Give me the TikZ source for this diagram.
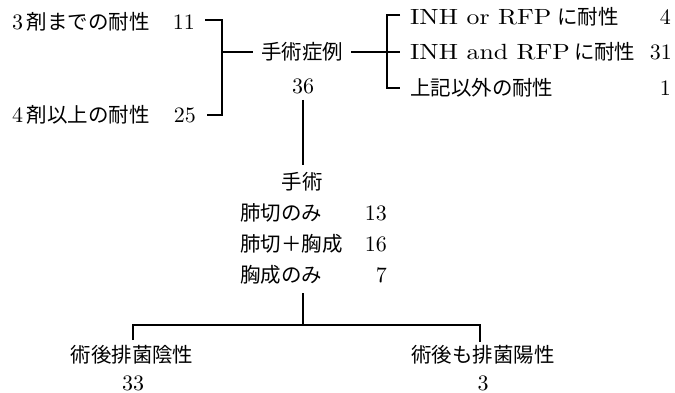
\documentclass[tikz,border=0pt]{standalone}
\usepackage{fontspec}
\usepackage{graphicx}
\setmainfont{lmroman10-regular}[Extension=.otf]
\newfontfamily\cjk[Scale=0.93]{Noto Sans CJK JP}
\newcommand\latw[1]{\scalebox{1.17}[1]{#1}}
\begin{document}
\begin{tikzpicture}[x=1pt,y=-1pt,
  font=\fontsize{22}{26}\selectfont,
  every node/.style={inner sep=0pt},
  conn/.style={line width=1.1pt},
  hub/.style={inner xsep=8pt}]
\useasboundingbox (0,0) rectangle (675,393);
% left group
\node[anchor=west] (a1) at (12,22) {3\,{\cjk 剤までの耐性}};
\node[anchor=east] (a1n) at (195,22) {11};
\node[anchor=west] (a2) at (12,115) {4\,{\cjk 剤以上の耐性}};
\node[anchor=east] (a2n) at (196,115) {25};
% hub
\node[hub] (op) at (302,52) {\cjk 手術症例};
\node (opn) at (303,86) {36};
% right group
\node[anchor=west] (r1) at (410,17) {\latw{INH or RFP}\hspace{6pt}{\cjk に耐性}};
\node[anchor=east] (r1n) at (671,17) {4};
\node[anchor=west] (r2) at (410,52) {\latw{INH and RFP}\hspace{4pt}{\cjk に耐性}};
\node[anchor=east] (r2n) at (672,52) {31};
\node[anchor=west] (r3) at (410,88) {\cjk 上記以外の耐性};
\node[anchor=east] (r3n) at (671,88) {1};
% surgery
\node (su) at (302,182) {\cjk 手術};
\node[anchor=west] (s1) at (240,213) {\cjk 肺切のみ};
\node[anchor=east] (s1n) at (387,213) {13};
\node[anchor=west] (s2) at (240,244) {\cjk 肺切＋胸成};
\node[anchor=east] (s2n) at (387,244) {16};
\node[anchor=west] (s3) at (240,275) {\cjk 胸成のみ};
\node[anchor=east] (s3n) at (387,275) {7};
% outcomes
\node (o1) at (132,355) {\cjk 術後排菌陰性};
\node (o1n) at (133,383) {33};
\node (o2) at (483,355) {\cjk 術後も排菌陽性};
\node (o2n) at (483,383) {3};
% connector points
\coordinate (b1s) at (205,20);
\coordinate (b1t) at (222,20);
\coordinate (b1b) at (222,115);
\coordinate (b1e) at (207,115);
\coordinate (b1m) at (222,52);
\coordinate (b2t) at (400,15);
\coordinate (b2tc) at (387,15);
\coordinate (b2bc) at (387,88);
\coordinate (b2b) at (400,88);
\coordinate (b2m) at (400,52);
\coordinate (v1a) at (303,100);
\coordinate (v1b) at (303,165);
\coordinate (v2a) at (303,293);
\coordinate (v2b) at (303,325);
\coordinate (hl) at (133,325);
\coordinate (hr) at (480,325);
\coordinate (dl) at (133,340);
\coordinate (dr) at (480,342);
% connectors
\draw[conn] (b1s) -- (b1t) -- (b1b) -- (b1e);
\draw[conn] (b1m) -- (op.west);
\draw[conn] (op.east) -- (b2m);
\draw[conn] (b2t) -- (b2tc) -- (b2bc) -- (b2b);
\draw[conn] (v1a) -- (v1b);
\draw[conn] (v2a) -- (v2b);
\draw[conn] (dl) -- (hl) -- (hr) -- (dr);
\end{tikzpicture}
\end{document}
